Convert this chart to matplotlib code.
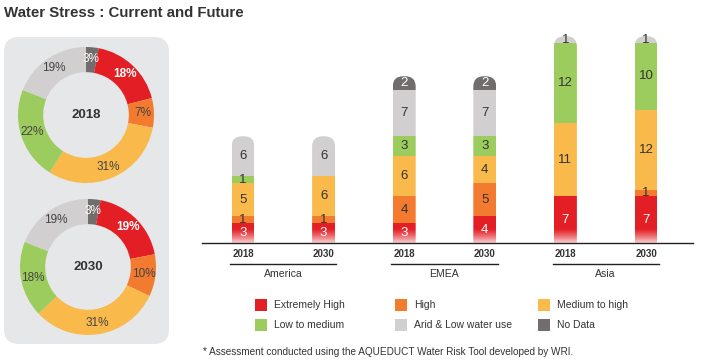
import numpy as np
import matplotlib
matplotlib.use("Agg")
import matplotlib.pyplot as plt
from matplotlib.patches import FancyBboxPatch, Rectangle

plt.rcParams['font.family'] = ['Liberation Sans', 'DejaVu Sans']

# categories and colours
categories = ['Extremely High', 'High', 'Medium to high',
              'Low to medium', 'Arid & Low water use', 'No Data']
colors = ['#e31e24', '#f37b2f', '#f9b94b', '#9ccb5e', '#d1cfd0', '#716d6d']

# donut shares in %, same order as categories
share_2018 = [18, 7, 31, 22, 19, 3]
share_2030 = [19, 10, 31, 18, 19, 3]

# stacked bars: America 2018/2030, EMEA 2018/2030, Asia 2018/2030
regions = ['America', 'EMEA', 'Asia']
years = ['2018', '2030', '2018', '2030', '2018', '2030']
extremely_high = [3, 3, 3, 4, 7, 7]
high = [1, 1, 4, 5, 0, 1]
medium_high = [5, 6, 6, 4, 11, 12]
low_medium = [1, 0, 3, 3, 12, 10]
arid_low = [6, 6, 7, 7, 1, 1]
no_data = [0, 0, 2, 2, 0, 0]

dark = '#333333'
W, H = 701, 364
fig = plt.figure(figsize=(W / 100, H / 100), dpi=100)

# overlay axes in pixel coords for title, panel, legend, footnote
ax0 = fig.add_axes([0, 0, 1, 1])
ax0.set_xlim(0, W)
ax0.set_ylim(H, 0)
ax0.axis('off')
ax0.text(4, 13, 'Water Stress : Current and Future', fontsize=10.8,
         fontweight='bold', color=dark, va='center', ha='left')
ax0.add_patch(FancyBboxPatch((4, 37), 165, 307,
                             boxstyle='round,pad=0,rounding_size=15',
                             fc='#e6e7e8', ec='none'))

# legend
leg_x = [255, 395, 538]
leg_y = [305, 325]
for i, (lab, col) in enumerate(zip(categories, colors)):
    x = leg_x[i % 3]
    y = leg_y[i // 3]
    ax0.add_patch(Rectangle((x, y - 6), 12, 12, fc=col, ec='none'))
    ax0.text(x + 19, y, lab, fontsize=7.5, color=dark, va='center', ha='left')
ax0.text(203, 352, '* Assessment conducted using the AQUEDUCT Water Risk Tool developed by WRI.',
         fontsize=7.2, color=dark, va='center', ha='left')


# donuts
def donut(cx, cy, R, shares, year):
    ax = fig.add_axes([(cx - R) / W, (H - cy - R) / H, 2 * R / W, 2 * R / H])
    vals = [shares[5]] + shares[:5]
    cols = [colors[5]] + colors[:5]
    wedges, texts, autotexts = ax.pie(vals, colors=cols, startangle=90, counterclock=False,
                                      radius=1, autopct='%d%%', pctdistance=0.83,
                                      wedgeprops=dict(width=0.37, edgecolor='none'),
                                      textprops=dict(fontsize=8.5, color='#444444'))
    autotexts[0].set_color('white')
    autotexts[1].set_color('white')
    autotexts[1].set_fontweight('bold')
    ax.text(0, 0, year, ha='center', va='center', fontsize=9.5,
            fontweight='bold', color=dark)
    ax.set_xlim(-1, 1)
    ax.set_ylim(-1, 1)


donut(86, 115, 68, share_2018, '2018')
donut(88, 267, 68, share_2030, '2030')

# stacked bars
px_x = 80.6
px_y = 6.67
left, right, base = 202, 693, 243
xlim = ((left - 243) / px_x, (right - 243) / px_x)
ylim = (0, 32)
ax = fig.add_axes([left / W, (H - base) / H, (right - left) / W, ylim[1] * px_y / H])
ax.set_xlim(*xlim)
ax.set_ylim(*ylim)
ax.axis('off')

x = np.arange(len(years))
bw = 0.285
series = [extremely_high, high, medium_high, low_medium, arid_low, no_data]
totals = np.sum(series, axis=0)
for i in range(len(x)):
    clip = FancyBboxPatch((x[i] - bw / 2, -5), bw, totals[i] + 5,
                          boxstyle='round,pad=0,rounding_size=%f' % (bw * 0.45),
                          mutation_aspect=px_x / px_y, transform=ax.transData,
                          fc='none', ec='none')
    bottom = 0
    for k, s in enumerate(series):
        v = s[i]
        if v == 0:
            continue
        bars = ax.bar(x[i], v, bw, bottom=bottom, color=colors[k], zorder=2, linewidth=0)
        for b in bars:
            b.set_clip_path(clip)
        tc = 'white' if k in (0, 5) else dark
        ax.text(x[i], bottom + v / 2, str(v), ha='center', va='center',
                fontsize=9.5, color=tc, zorder=6)
        bottom += v

# white fade at the foot of the bars
grad = np.zeros((50, 2, 4))
grad[..., :3] = 1
grad[..., 3] = np.linspace(0, 0.85, 50)[:, None] ** 1.3
ax.imshow(grad, extent=(xlim[0], xlim[1], 0, 2.2), aspect='auto',
          origin='upper', zorder=4, interpolation='bilinear')
ax.set_xlim(*xlim)
ax.set_ylim(*ylim)

ax.plot(xlim, [0, 0], color='#222222', lw=1, clip_on=False, zorder=7)
for i in range(len(x)):
    ax.text(x[i], -1.65, years[i], ha='center', va='center', fontsize=7,
            fontweight='bold', color=dark, clip_on=False)
for g, reg in enumerate(regions):
    gc = 2 * g + 0.5
    ax.plot([gc - 0.66, gc + 0.66], [-3.15, -3.15], color='#222222', lw=1, clip_on=False)
    ax.text(gc, -4.7, reg, ha='center', va='center', fontsize=7.6,
            color=dark, clip_on=False)

fig.savefig('out.png', dpi=100)
